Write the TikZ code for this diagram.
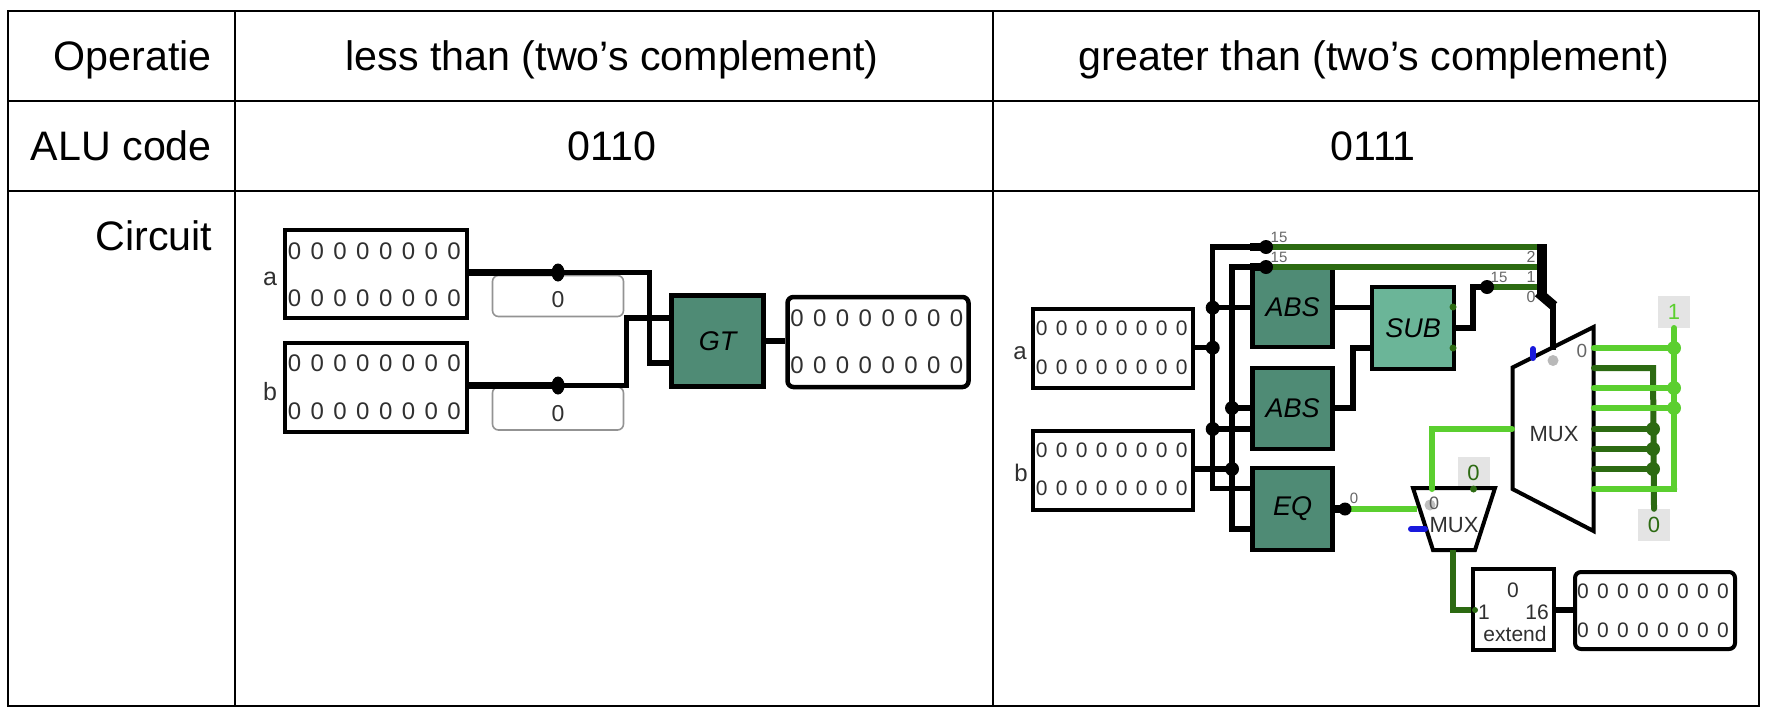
\documentclass[tikz,border=0pt]{standalone}
\usepackage{fontspec}
\setmainfont{Liberation Sans}
\newcommand{\fsz}[1]{\fontsize{#1}{#1}\selectfont}
\definecolor{gatedark}{HTML}{4F8B75}
\definecolor{gatelight}{HTML}{6BB598}
\definecolor{wlight}{HTML}{5BCF2F}
\definecolor{wdark}{HTML}{2C6A12}
\definecolor{pinbg}{HTML}{E4E4E4}
\definecolor{ink}{HTML}{303030}
\tikzset{
  cell/.style={font=\fsz{41.2}, text=black, inner sep=0pt},
  gridline/.style={line width=2pt, black},
  regbox/.style={draw=black, line width=4.5pt, fill=white, inner sep=0pt},
  gate/.style={draw=black, line width=4.5pt, inner sep=0pt, font=\fsz{27}\itshape, text=black},
  cst/.style={draw=gray!85, line width=1.6pt, rounded corners=6pt, fill=white, inner sep=0pt},
  digit/.style={inner sep=0pt, font=\fsz{#1}, text=ink},
  digit/.default=22,
  wire/.style={line width=5.5pt, black, line join=miter},
  lw/.style={line width=6pt, wlight},
  dw/.style={line width=6pt, wdark},
  pinbox/.style={fill=pinbg, inner sep=0pt, minimum width=32pt, minimum height=32pt},
  tiny/.style={inner sep=0pt, font=\fsz{15}, text=gray!80!black},
  muxlab/.style={inner sep=0pt, font=\fsz{21}, text=ink},
}
\begin{document}
\begin{tikzpicture}[x=1pt,y=-1pt]
\useasboundingbox (0,0) rectangle (1768,713);
% table
\coordinate (tl) at (8,11); \coordinate (tr) at (1759,11);
\coordinate (r1l) at (8,101); \coordinate (r1r) at (1759,101);
\coordinate (r2l) at (8,191); \coordinate (r2r) at (1759,191);
\coordinate (bl) at (8,706); \coordinate (br) at (1759,706);
\coordinate (c1t) at (234.5,11); \coordinate (c1b) at (234.5,706);
\coordinate (c2t) at (993,11); \coordinate (c2b) at (993,706);
\draw[gridline] (tl) -- (tr) -- (br) -- (bl) -- cycle;
\draw[gridline] (r1l) -- (r1r) (r2l) -- (r2r) (c1t) -- (c1b) (c2t) -- (c2b);
\node[cell,anchor=base east] (t1) at (212,70.5) {Operatie};
\node[cell,anchor=base east] (t2) at (212,160) {ALU code};
\node[cell,anchor=base east] (t3) at (212.5,250.5) {Circuit};
\node[cell,anchor=base] (t4) at (612,70.5) {less than (two’s complement)};
\node[cell,anchor=base] (t5) at (1374,70.5) {greater than (two’s complement)};
\node[cell,anchor=base] (t6) at (612,160) {0110};
\node[cell,anchor=base] (t7) at (1373,160) {0111};

% LEFT CIRCUIT
\node[regbox,minimum width=182pt,minimum height=88pt] (la) at (376,274) {};
\node[regbox,minimum width=182pt,minimum height=89pt] (lb) at (376,387.5) {};
\node[cst,minimum width=131pt,minimum height=41pt] (lc1) at (558,296) {};
\node[cst,minimum width=131pt,minimum height=43pt] (lc2) at (558,408.5) {};
\node[digit=23] (lc1t) at (558,300) {0};
\node[digit=23] (lc2t) at (558,414) {0};
\node[gate,fill=gatedark,minimum width=92pt,minimum height=91pt] (gt) at (717.5,341) {GT};
\node[regbox,rounded corners=6pt,minimum width=181pt,minimum height=90pt] (lo) at (878,342) {};
\node[digit=25] (lal) at (270,279) {a};
\node[digit=25] (lbl) at (270,392) {b};
\foreach \i in {0,...,7}{
  \node[digit=24] (laa\i) at (294.5+\i*22.8,251) {0};
  \node[digit=24] (lab\i) at (294.5+\i*22.8,298) {0};
  \node[digit=24] (lba\i) at (294.5+\i*22.8,363) {0};
  \node[digit=24] (lbb\i) at (294.5+\i*22.8,411) {0};
  \node[digit=24] (loa\i) at (797+\i*22.8,318) {0};
  \node[digit=24] (lob\i) at (797+\i*22.8,365) {0};
}
\coordinate (ja) at (558,272.5);
\coordinate (jb) at (558,385.5);
\coordinate (gi1) at (671,318);
\coordinate (gi2) at (671,363);
\draw[wire,line width=6.5pt] (la.east |- ja) -- (ja);
\draw[wire] (ja) -| (649.5,363) -- (gi2);
\draw[wire,line width=6.5pt] (lb.east |- jb) -- (jb);
\draw[wire] (jb) -| (626.5,318) -- (gi1);
\draw[wire] (gt.east) -- (gt.east -| lo.west);
\fill (ja) ellipse (6.5pt and 9pt);
\fill (jb) ellipse (6.5pt and 9pt);

% RIGHT CIRCUIT
\node[regbox,line width=4pt,minimum width=160pt,minimum height=79pt] (ra) at (1113,348.5) {};
\node[regbox,line width=4pt,minimum width=160pt,minimum height=79pt] (rb) at (1113,470.5) {};
\node[digit=24] (ral) at (1020,353) {a};
\node[digit=24] (rbl) at (1021,473) {b};
\foreach \i in {0,...,7}{
  \node[digit=21] (raa\i) at (1041.7+\i*20,328.3) {0};
  \node[digit=21] (rab\i) at (1041.7+\i*20,367) {0};
  \node[digit=21] (rba\i) at (1041.7+\i*20,450) {0};
  \node[digit=21] (rbb\i) at (1041.7+\i*20,488.5) {0};
}
\coordinate (x1) at (1212.7,347.7);
\coordinate (x2) at (1232,469);
\coordinate (sp1) at (1266,247);
\coordinate (sp2) at (1266,267);
\coordinate (sp3) at (1487,287);
\coordinate (j1) at (1542,247);
\coordinate (j2) at (1542,267);
\coordinate (j3) at (1542,287);
\coordinate (d1) at (1212.7,307.7);
\coordinate (d2) at (1212.7,429);
\coordinate (d3) at (1232,408);
% gates
\node[gate,fill=gatedark,minimum width=80pt,minimum height=80pt] (abs1) at (1292.7,307) {ABS};
\node[gate,fill=gatedark,minimum width=80pt,minimum height=81pt] (abs2) at (1292.7,408.5) {ABS};
\node[gate,fill=gatedark,minimum width=80pt,minimum height=82pt] (eq) at (1292.7,509) {EQ};
\node[gate,fill=gatelight,minimum width=82pt,minimum height=82pt] (sub) at (1413,328) {SUB};
% green bus
\draw[dw] (sp1) -- (j1);
\draw[dw] (sp2) -- (j2);
\draw[dw] (sp3) -- (j3);
% black wires
\draw[wire] (sp1) -- (1212.7,247) -- (1212.7,488.3) -- (eq.west |- 0,488.3);
\draw[wire] (sp2) -- (1232,267) -- (1232,529) -- (eq.west |- 0,529);
\draw[wire] (ra.east |- x1) -- (x1);
\draw[wire] (rb.east |- x2) -- (x2);
\draw[wire] (d1) -- (abs1.west |- d1);
\draw[wire] (d2) -- (abs2.west |- d2);
\draw[wire] (d3) -- (abs2.west |- d3);
\draw[wire,line width=8pt] (1250,247) -- (sp1);
\draw[wire,line width=8pt] (1250,267) -- (sp2);
\draw[wire] (abs1.east |- d1) -- (sub.west |- d1);
\draw[wire] (abs2.east |- d3) -- (1353,408) -- (1353,348) -- (sub.west |- 0,348);
\draw[wire] (sub.east) -- (1473,328) -- (1473,287) -- (sp3);
\foreach \p/\n in {x1/ka,x2/kb,d1/kc,d2/kd,d3/ke,sp1/kf,sp2/kg,sp3/kh}
  \fill (\p) circle (7pt);
\fill[wdark] (1453,307) circle (3.5pt) (1453,348) circle (3.5pt);
\node[tiny] (n15a) at (1279,237) {15};
\node[tiny] (n15b) at (1279,257) {15};
\node[tiny] (n15c) at (1499,277) {15};
\node[tiny,font=\fsz{16}] (n2) at (1531,257) {2};
\node[tiny,font=\fsz{16}] (n1) at (1531,277) {1};
\node[tiny,font=\fsz{16}] (n0) at (1531,297) {0};
% splitter to mux
\coordinate (msel) at (1553,350);
\draw[line width=10pt,black,line cap=butt] (1541.7,244) -- (1541.7,296);
\draw[line width=10pt,black,line cap=butt] (1538.2,292.5) -- (1554,306);
\draw[line width=5.5pt,black] (1553,302) -- (msel);
% big mux
\node[draw=none,inner sep=0pt] (bm) at (1554,434) {\fsz{22}\color{ink}MUX};
\draw[line width=4pt,black,line join=miter] (1512.5,367.5) -- (1593.5,327) -- (1593.5,531) -- (1512.5,489) -- cycle;
\fill[gray!55] (1553,360.5) circle (5.5pt);
\draw[line width=6pt,blue!85!black!90,line cap=round] (1533,349) -- (1533,358);
\node[inner sep=0pt,font=\fsz{19},text=gray!80!black] (bm0) at (1582,351) {0};
% pins and outputs
\node[pinbox] (pin0) at (1654,525) {};
\node[pinbox] (pin1) at (1674,312) {};
\node[inner sep=0pt,font=\fsz{22},text=wdark] (pin0t) at (1654,525) {0};
\node[inner sep=0pt,font=\fsz{22},text=wlight] (pin1t) at (1674,312) {1};
\coordinate (dv) at (1653,368);
\draw[dw,line cap=round] (1594,368) -- (dv) -- (pin0.north);
\foreach \y in {429,449,469}{
  \draw[dw,line cap=round] (1594,\y) -- (1653,\y);
  \fill[wdark] (1653,\y) circle (7pt);
}
\draw[lw,line width=5.5pt] (pin1.south) -- (1674,489) -- (1594,489);
\draw[lw,line width=6.5pt,line cap=round] (1594,348) -- (1674,348);
\draw[lw,line width=6.5pt,line cap=round] (1594,388) -- (1674,388);
\draw[lw,line width=6.5pt,line cap=round] (1594,408) -- (1674,408);
\draw[lw,line width=6.5pt,line cap=round] (1594,489) -- (1674,489);
\foreach \y in {348,388,408} \fill[wlight] (1674,\y) circle (7pt);
\fill[wlight] (1674,328) circle (3pt);
% small mux
\node[pinbox,minimum width=32pt,minimum height=31pt] (pinm) at (1473.5,472.5) {};
\node[inner sep=0pt,font=\fsz{22},text=wdark] (pinmt) at (1473.5,473) {0};
\draw[lw,line cap=round] (1512,429) -- (1432,429) -- (1432,488);
\node[inner sep=0pt] (sm) at (1454,525) {\fsz{22}\color{ink}MUX};
\draw[line width=4pt,black,line join=miter] (1413,488) -- (1495,488) -- (1475,550) -- (1433,550) -- cycle;
\draw[lw,line cap=round] (1432,480) -- (1432,489);
\fill[wdark] (1473.5,489) circle (3.5pt);
\fill[gray!50] (1430,505) circle (5.5pt);
\node[inner sep=0pt,font=\fsz{18},text=gray!70!black] (sm0) at (1434,503) {0};
\draw[line width=6pt,blue!85!black!90,line cap=round] (1411,529) -- (1425,529);
% EQ output
\coordinate (eqo) at (1345,509);
\draw[lw] (eqo) -- (1417,509);
\draw[wire,line width=8pt] (eq.east |- eqo) -- (eqo);
\fill (eqo) circle (6.5pt);
\node[tiny] (n0e) at (1354,498) {0};
% extend
\node[draw=black,line width=4pt,fill=white,minimum width=81pt,minimum height=81pt,inner sep=0pt] (ext) at (1513.5,609.5) {};
\node[muxlab] (e0) at (1513,590) {0};
\node[muxlab] (e1) at (1484,612) {1};
\node[muxlab] (e16) at (1537,612) {16};
\node[muxlab] (ee) at (1515,634) {extend};
\draw[dw] (1453,550) -- (1453,610) -- (ext.west |- 0,610);
\fill[wdark] (1475,610) circle (3pt);
\node[regbox,line width=4pt,rounded corners=6pt,minimum width=160pt,minimum height=77pt] (ro) at (1655,610.5) {};
\foreach \i in {0,...,7}{
  \node[digit=21] (roa\i) at (1583+\i*20,591) {0};
  \node[digit=21] (rob\i) at (1583+\i*20,630) {0};
}
\draw[wire] (ext.east |- 0,610) -- (ro.west |- 0,610);
\end{tikzpicture}
\end{document}
